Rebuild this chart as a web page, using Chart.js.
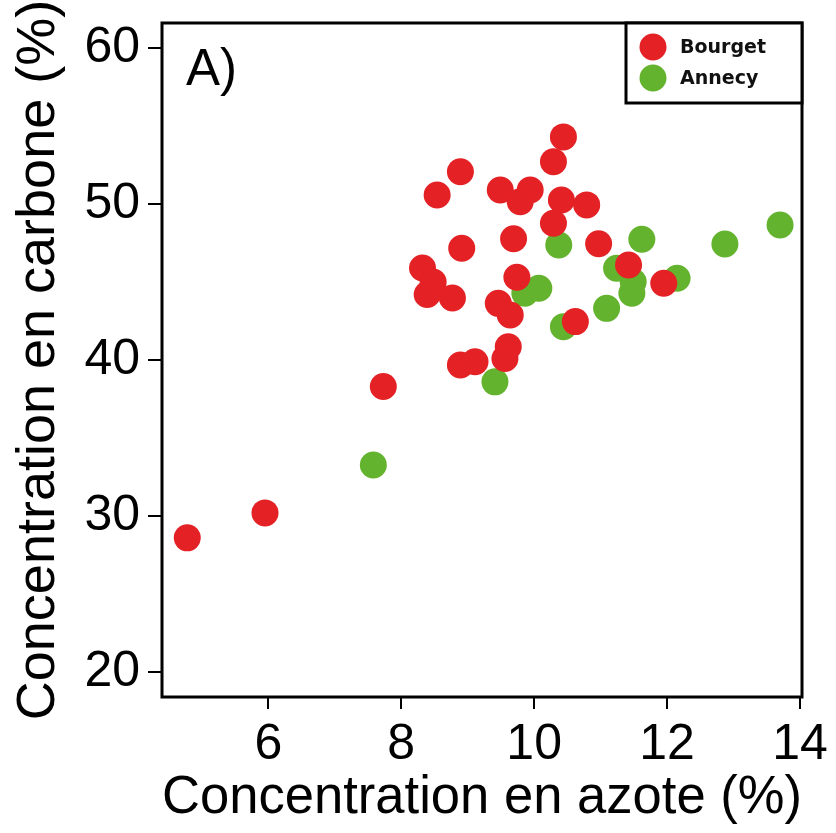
<!DOCTYPE html>
<html>
<head>
<meta charset="utf-8">
<script src="https://cdn.jsdelivr.net/npm/chart.js@4.4.1/dist/chart.umd.min.js"></script>
<style>
  html, body { margin: 0; padding: 0; background: #ffffff; }
  #wrap { width: 836px; height: 833px; }
</style>
</head>
<body>
<div id="wrap"><canvas id="c" width="836" height="833"></canvas></div>
<script>
// ---- data ----
const seriesNames = ['Bourget', 'Annecy'];
const bourgetN = [4.78, 5.95, 7.73, 8.89, 8.54, 10.44, 10.29, 9.49, 9.94, 9.79, 10.41, 10.79, 10.29, 9.69, 8.91, 10.97, 8.32, 8.48, 8.39, 8.77, 9.74, 9.46, 9.64, 10.62, 9.61, 9.56, 8.89, 9.11, 11.42, 11.95];
const bourgetC = [28.6, 30.2, 38.3, 52.07, 50.58, 54.3, 52.71, 50.9, 50.9, 50.15, 50.26, 49.94, 48.76, 47.77, 47.16, 47.45, 45.9, 45.0, 44.2, 43.97, 45.3, 43.63, 42.88, 42.46, 40.85, 40.1, 39.68, 39.89, 46.09, 44.92];
const anneyN = [7.58, 9.41, 9.86, 10.07, 10.44, 10.37, 11.62, 11.24, 11.49, 11.47, 11.09, 12.15, 12.87, 13.70];
const anneyC = [33.27, 38.6, 44.28, 44.6, 42.13, 47.37, 47.74, 45.88, 45.02, 44.28, 43.31, 45.24, 47.44, 48.65];
const xTicks = [6, 8, 10, 12, 14];
const yTicks = [20, 30, 40, 50, 60];
const xTitle = 'Concentration en azote (%)';
const yTitle = 'Concentration en carbone (%)';
const panelLabel = 'A)';

const RED = '#E42125';
const GREEN = '#63B32E';

function pts(xs, ys) { return xs.map((x, i) => ({ x: x, y: ys[i] })); }

const boxPlugin = {
  id: 'boxPlugin',
  afterDraw(chart) {
    const ctx = chart.ctx;
    const a = chart.chartArea;
    ctx.save();
    ctx.strokeStyle = '#000';
    ctx.lineWidth = 3;
    ctx.strokeRect(a.left, a.top, a.right - a.left, a.bottom - a.top);
    // panel label
    ctx.fillStyle = '#000';
    ctx.font = '51px "Liberation Sans", Arial, sans-serif';
    ctx.textAlign = 'left';
    ctx.textBaseline = 'alphabetic';
    ctx.fillText(panelLabel, a.left + 24, a.top + 62);
    // legend
    const lw = 176, lh = 80;
    const lx = a.right - lw, ly = a.top;
    ctx.fillStyle = '#fff';
    ctx.fillRect(lx, ly, lw, lh);
    ctx.strokeRect(lx, ly, lw, lh);
    const rows = [a.top + 24, a.top + 55];
    chart.data.datasets.forEach((ds, i) => {
      ctx.beginPath();
      ctx.fillStyle = ds.backgroundColor;
      ctx.arc(lx + 27, rows[i], 13.5, 0, Math.PI * 2);
      ctx.fill();
      ctx.fillStyle = '#111';
      ctx.font = 'bold 19px "DejaVu Sans", sans-serif';
      ctx.textBaseline = 'middle';
      ctx.fillText(ds.label, lx + 54, rows[i] + 1);
    });
    ctx.restore();
  }
};

new Chart(document.getElementById('c'), {
  type: 'scatter',
  data: {
    datasets: [
      { label: seriesNames[0], data: pts(bourgetN, bourgetC), backgroundColor: RED, borderWidth: 0, pointRadius: 13.5, pointHoverRadius: 13.5 },
      { label: seriesNames[1], data: pts(anneyN, anneyC), backgroundColor: GREEN, borderWidth: 0, pointRadius: 13.5, pointHoverRadius: 13.5 }
    ]
  },
  options: {
    responsive: false,
    devicePixelRatio: 1,
    animation: false,
    events: [],
    layout: { padding: { left: 0, top: 23, right: 34, bottom: 0 } },
    plugins: { legend: { display: false }, tooltip: { enabled: false } },
    scales: {
      x: {
        type: 'linear',
        min: 4.4,
        max: 14.03,
        afterBuildTicks: (s) => { s.ticks = xTicks.map(v => ({ value: v })); },
        afterFit: (s) => { s.height = 833 - 697; },
        grid: { drawOnChartArea: false, drawTicks: true, tickLength: 12, color: '#000', lineWidth: 2 },
        border: { display: false },
        ticks: { color: '#000', padding: 6, font: { family: '"Liberation Sans", Arial, sans-serif', size: 50 }, maxRotation: 0 },
        title: { display: true, text: xTitle, color: '#000', font: { family: '"Liberation Sans", Arial, sans-serif', size: 54 }, padding: { top: 0, bottom: 2 } }
      },
      y: {
        type: 'linear',
        min: 18.4,
        max: 61.6,
        afterBuildTicks: (s) => { s.ticks = yTicks.map(v => ({ value: v })); },
        afterFit: (s) => { s.width = 162; },
        grid: { drawOnChartArea: false, drawTicks: true, tickLength: 14, color: '#000', lineWidth: 2 },
        border: { display: false },
        ticks: { color: '#000', padding: 8, font: { family: '"Liberation Sans", Arial, sans-serif', size: 50, lineHeight: 0.5 } },
        title: { display: true, text: yTitle, color: '#000', font: { family: '"Liberation Sans", Arial, sans-serif', size: 54 }, padding: { top: 7, bottom: 0 } }
      }
    }
  },
  plugins: [boxPlugin]
});
</script>
</body>
</html>
